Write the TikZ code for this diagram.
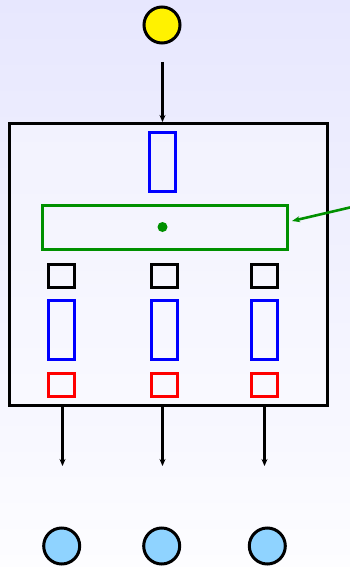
\documentclass[tikz,border=0pt]{standalone}
\usetikzlibrary{arrows.meta}
\definecolor{bgtop}{HTML}{E7E7FE}
\definecolor{bgbot}{HTML}{FDFDFF}
\definecolor{dkgreen}{HTML}{009000}
\definecolor{skyblue}{HTML}{8FD3FF}
\tikzset{
  bluebox/.style={draw=blue, line width=3pt, minimum width=26pt, minimum height=59pt, inner sep=0pt, anchor=north},
  blackbox/.style={draw=black, line width=3pt, minimum width=26pt, minimum height=23pt, inner sep=0pt, anchor=north},
  redbox/.style={draw=red, line width=3pt, minimum width=26pt, minimum height=23pt, inner sep=0pt, anchor=north},
  disc/.style={circle, draw=black, line width=3pt, minimum size=36pt, inner sep=0pt},
  flow/.style={-{Stealth[length=7pt,width=6pt]}, line width=2.8pt},
}
\begin{document}
\begin{tikzpicture}[x=1pt,y=-1pt]
  \useasboundingbox (0,0) rectangle (350,567);
  \shade[top color=bgtop, bottom color=bgbot] (0,0) rectangle (350,567);

  % outer frame
  \node[draw, line width=3.2pt, fill=white, fill opacity=0.35, draw opacity=1,
        minimum width=318pt, minimum height=282pt, inner sep=0pt, anchor=north west]
        (frame) at (8,122) {};

  % input
  \node[disc, fill=yellow] (in) at (162,25) {};
  \coordinate (intail) at (162.5,62);
  \draw[flow] (intail) -- (frame.north -| intail);

  % top block
  \node[bluebox] (top) at (162.5,131) {};

  % green band with centre dot
  \node[draw=dkgreen, line width=3pt, minimum width=245pt, minimum height=44pt,
        inner sep=0pt, anchor=north west] (band) at (41,204) {};
  \fill[dkgreen] (162.5,227) circle (5pt);
  \coordinate (gsrc) at (352,207);
  \draw[dkgreen, -{Stealth[length=8pt,width=6pt]}, line width=2.6pt] (gsrc) -- (292,221);

  % three columns
  \foreach \i/\x in {1/61.5, 2/164.5, 3/264.5} {
    \node[blackbox] (k\i) at (\x,263) {};
    \node[bluebox]  (b\i) at (\x,299) {};
    \node[redbox]   (r\i) at (\x,372) {};
  }

  % outputs
  \foreach \i/\ax/\cx in {1/62.5/61.7, 2/162.5/161.7, 3/264.5/267.3} {
    \coordinate (s\i) at (\ax,404);
    \coordinate (e\i) at (\ax,466);
    \draw[flow] (s\i) -- (e\i);
    \node[disc, fill=skyblue] (o\i) at (\cx,546) {};
  }
\end{tikzpicture}
\end{document}
